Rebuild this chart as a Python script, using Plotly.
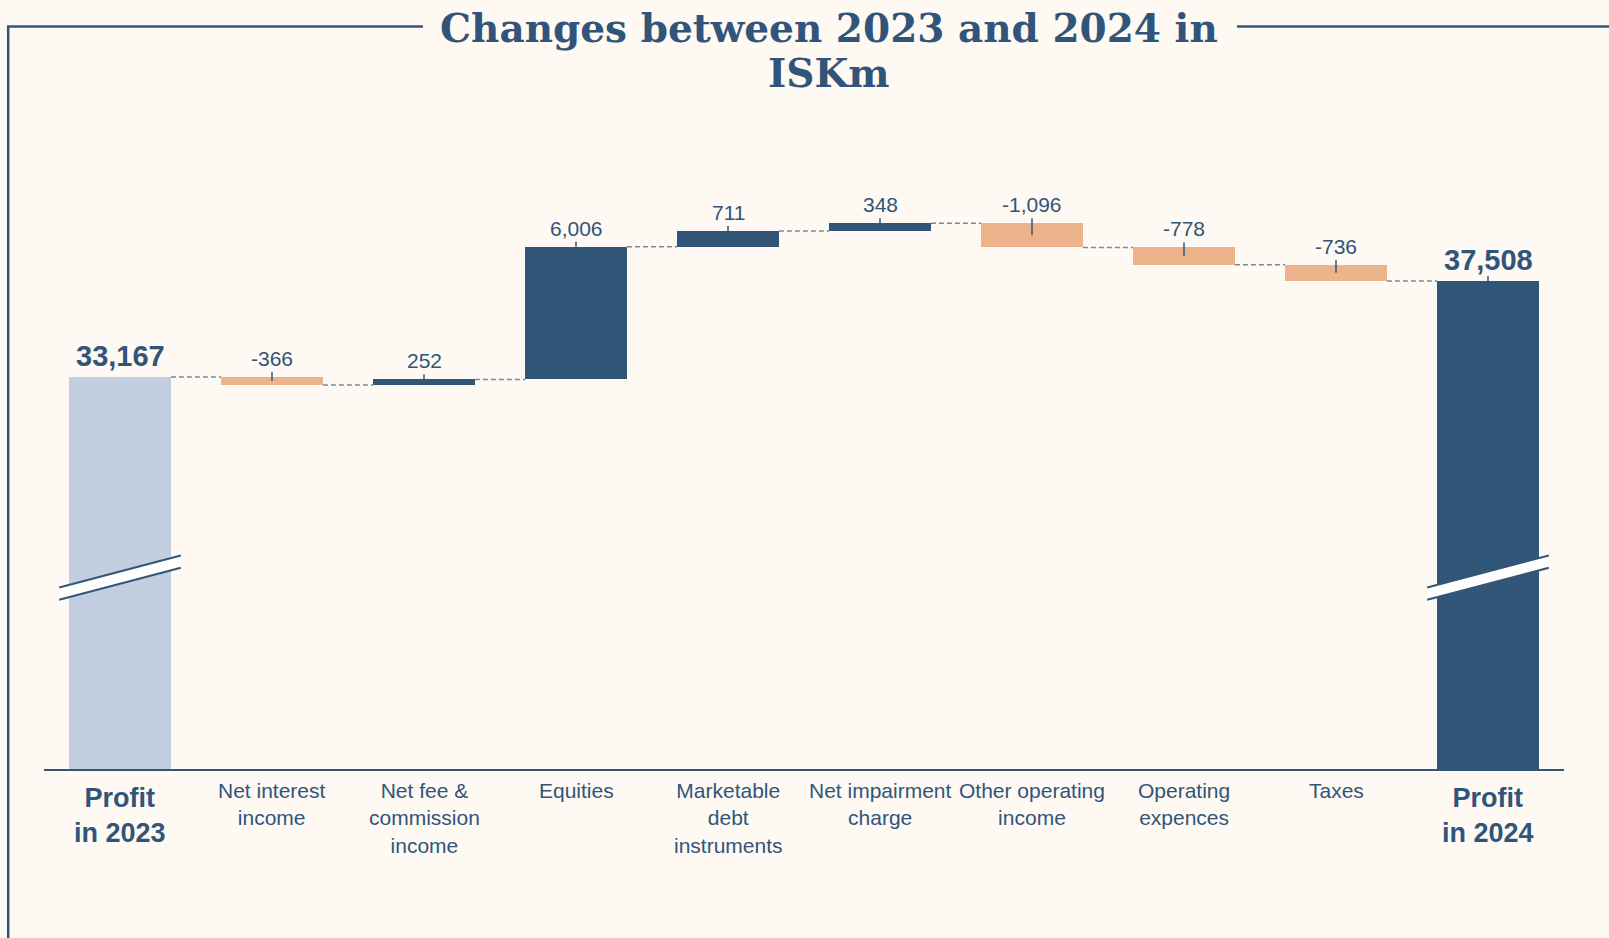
import plotly.graph_objects as go

# ---- data -------------------------------------------------------------
categories = [
    "Profit<br>in 2023",
    "Net interest<br>income",
    "Net fee &amp;<br>commission<br>income",
    "Equities",
    "Marketable<br>debt<br>instruments",
    "Net impairment<br>charge",
    "Other operating<br>income",
    "Operating<br>expences",
    "Taxes",
    "Profit<br>in 2024",
]
start_profit = 33167
changes = [-366, 252, 6006, 711, 348, -1096, -778, -736]
end_profit = 37508

# ---- style ------------------------------------------------------------
W, H = 1609, 938
M_L, M_R, M_T, M_B = 44, 45, 100, 169
PLOT_W = W - M_L - M_R
PLOT_H = H - M_T - M_B
Y_RANGE = [15440, 45690]

BG = "#FEF9F2"
DARK = "#325678"
LIGHT = "#C3CEE0"
ORANGE = "#EDB38B"
TEXT = "#31557A"
CONNECTOR = "#7189A2"
SANS = "Liberation Sans, Arial, sans-serif"
SERIF = "DejaVu Serif, Georgia, serif"
BAR_W = 0.67

units_per_px = (Y_RANGE[1] - Y_RANGE[0]) / PLOT_H


def paper_x(px):
    return (px - M_L) / PLOT_W


def paper_y(py):
    return (H - M_B - py) / PLOT_H


# ---- waterfall geometry ----------------------------------------------
n = len(categories)
xs = list(range(n))
bases, heights, colors, tops, levels = [], [], [], [], []

bases.append(0)
heights.append(start_profit)
colors.append(LIGHT)
tops.append(start_profit)
levels.append(start_profit)

cum = start_profit
for c in changes:
    lo = min(cum, cum + c)
    bases.append(lo)
    heights.append(abs(c))
    colors.append(DARK if c > 0 else ORANGE)
    tops.append(max(cum, cum + c))
    cum += c
    levels.append(cum)

bases.append(0)
heights.append(end_profit)
colors.append(DARK)
tops.append(end_profit)

values = [start_profit] + changes + [end_profit]

fig = go.Figure()

fig.add_trace(go.Bar(
    x=xs, y=heights, base=bases, width=BAR_W,
    marker=dict(color=colors, line=dict(width=0)),
    hoverinfo="skip", showlegend=False,
))

# dashed connectors between neighbouring bars
cx, cy = [], []
for i in range(n - 1):
    cx += [i + BAR_W / 2, i + 1 - BAR_W / 2, None]
    cy += [levels[i], levels[i], None]
fig.add_trace(go.Scatter(
    x=cx, y=cy, mode="lines",
    line=dict(color=CONNECTOR, width=1.5, dash="5px,3px"),
    hoverinfo="skip", showlegend=False,
))

# short leader ticks from the value labels into the bars
tx, ty = [], []
for i in range(1, n):
    top = tops[i]
    if 0 < i < n - 1 and values[i] < 0:
        end = bases[i] + heights[i] / 2
    else:
        end = top
    tx += [i, i, None]
    ty += [top + 5 * units_per_px, end, None]
fig.add_trace(go.Scatter(
    x=tx, y=ty, mode="lines",
    line=dict(color=TEXT, width=1.5),
    hoverinfo="skip", showlegend=False,
))

annotations = []

# value labels
for i in range(n):
    total = i in (0, n - 1)
    annotations.append(dict(
        x=i, y=tops[i], xref="x", yref="y",
        text=f"<b>{values[i]:,}</b>" if total else f"{values[i]:,}",
        showarrow=False, yanchor="bottom", xanchor="center",
        yshift=3 if total else 5,
        font=dict(family=SANS, size=29 if total else 21, color=TEXT),
    ))

# category labels
for i, cat in enumerate(categories):
    total = i in (0, n - 1)
    annotations.append(dict(
        x=i, y=0, xref="x", yref="paper",
        text=f"<b>{cat}</b>" if total else cat,
        showarrow=False, yanchor="top", xanchor="center",
        yshift=-12 if total else -8,
        font=dict(family=SANS, size=27 if total else 21, color=TEXT),
    ))

# title, two lines
title_x = paper_x(829)
for line, py in (("Changes between 2023 and 2024 in", 28), ("ISKm", 73)):
    annotations.append(dict(
        x=title_x, y=paper_y(py), xref="paper", yref="paper",
        text=f"<b>{line}</b>", showarrow=False,
        xanchor="center", yanchor="middle",
        font=dict(family=SERIF, size=39, color=TEXT),
    ))

shapes = []

# frame around the chart, interrupted by the title
fx = paper_x(8.2)
fy = paper_y(26.5)
shapes.append(dict(
    type="path", xref="paper", yref="paper",
    path=f"M {fx} {paper_y(H + 10)} L {fx} {fy} L {paper_x(423)} {fy}",
    line=dict(color=TEXT, width=2.5),
))
shapes.append(dict(
    type="line", xref="paper", yref="paper",
    x0=paper_x(1237), x1=paper_x(W + 10), y0=fy, y1=fy,
    line=dict(color=TEXT, width=2.5),
))

# axis-break marks on the two profit bars
BREAK_C = 0.286
BREAK_GAP = 0.0092
BREAK_RISE = 0.0239
BREAK_HALF = 0.4
for i in (0, n - 1):
    x0, x1 = i - BREAK_HALF, i + BREAK_HALF
    lo0, lo1 = BREAK_C - BREAK_RISE - BREAK_GAP, BREAK_C + BREAK_RISE - BREAK_GAP
    hi0, hi1 = BREAK_C - BREAK_RISE + BREAK_GAP, BREAK_C + BREAK_RISE + BREAK_GAP
    shapes.append(dict(
        type="path", xref="x", yref="paper",
        path=f"M {x0} {lo0} L {x1} {lo1} L {x1} {hi1} L {x0} {hi0} Z",
        fillcolor="white", line=dict(width=0),
    ))
    for a, b in ((lo0, lo1), (hi0, hi1)):
        shapes.append(dict(
            type="line", xref="x", yref="paper",
            x0=x0, x1=x1, y0=a, y1=b,
            line=dict(color=DARK, width=2),
        ))

fig.update_layout(
    width=W, height=H,
    margin=dict(l=M_L, r=M_R, t=M_T, b=M_B, pad=0),
    paper_bgcolor=BG, plot_bgcolor=BG,
    bargap=0,
    xaxis=dict(
        range=[-0.5, n - 0.5], showticklabels=False, ticks="",
        showgrid=False, zeroline=False,
        showline=True, linecolor=DARK, linewidth=2, fixedrange=True,
    ),
    yaxis=dict(
        range=Y_RANGE, visible=False, showgrid=False, zeroline=False,
        fixedrange=True,
    ),
    annotations=annotations,
    shapes=shapes,
)

fig.write_html("out.html")
